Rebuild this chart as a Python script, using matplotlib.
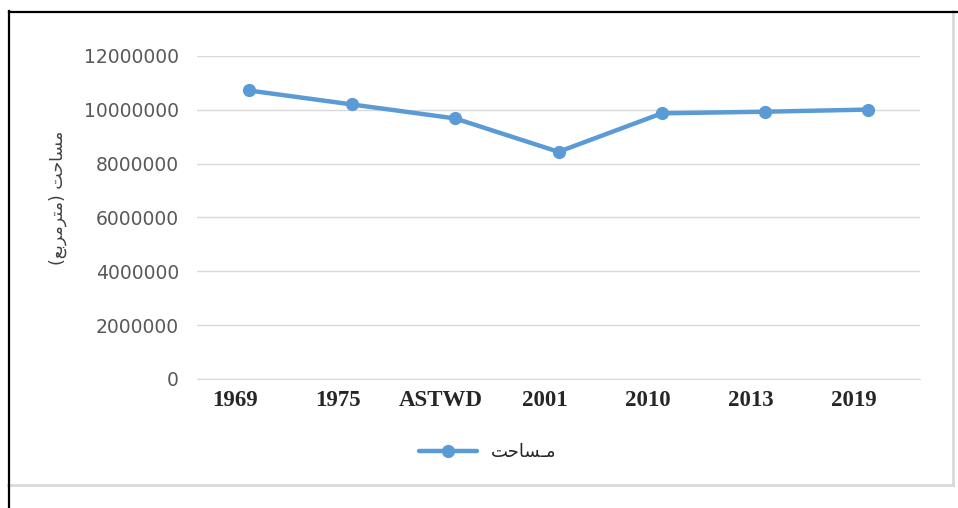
import matplotlib
matplotlib.use("Agg")
import matplotlib.pyplot as plt
from matplotlib.lines import Line2D
from matplotlib.transforms import ScaledTranslation

categories = ["1969", "1975", "ASTWD", "2001", "2010", "2013", "2019"]
values = [10720000, 10200000, 9680000, 8440000, 9870000, 9930000, 10010000]
yticks = [0, 2000000, 4000000, 6000000, 8000000, 10000000, 12000000]

# Arabic text pre-shaped (presentation forms) in visual order
legend_label = "\uFE96\uFEA3\uFE8E\uFEB4\u0640\uFEE3"  # مـساحت
ylabel = ("(" + "\uFECA\uFE91\uFEAE\uFEE3\uFEAE\uFE98\uFEE3" + ") "
          + "\uFE96\uFEA3\uFE8E\uFEB4\uFEE3")  # مساحت (مترمربع)

W, H = 958, 508
fig = plt.figure(figsize=(W / 100, H / 100), dpi=100)
fig.patch.set_facecolor("white")

ax = fig.add_axes([197 / W, 1 - 379 / H, (920 - 197) / W, (379 - 56) / H])
x = list(range(len(categories)))
ax.plot(x, values, color="#5B9BD5", lw=3.2, marker="o", ms=8.5,
        solid_capstyle="round", label=legend_label, zorder=3)

ax.set_xlim(-0.5, len(categories) - 0.5)
ax.set_ylim(0, 12000000)
ax.set_yticks(yticks)
ax.set_yticklabels([str(v) for v in yticks], color="#595959", fontsize=13.5,
                   family="DejaVu Sans")
ax.set_xticks(x)
ax.set_xticklabels(categories, family="Liberation Serif", fontweight="bold",
                   fontsize=16.5, color="#262626")
ax.tick_params(axis="both", length=0)
ax.tick_params(axis="y", pad=13)
ax.tick_params(axis="x", pad=8)
shift = ScaledTranslation(-14 / 100, 0, fig.dpi_scale_trans)
for lbl in ax.get_xticklabels():
    lbl.set_transform(lbl.get_transform() + shift)
ax.grid(axis="y", color="#D9D9D9", lw=1)
ax.set_axisbelow(True)
for s in ["top", "right", "left"]:
    ax.spines[s].set_visible(False)
ax.spines["bottom"].set_color("#D9D9D9")

fig.text(58 / W, 1 - 198 / H, ylabel, rotation=90, ha="center", va="center",
         fontsize=12.5, color="#404040", family="DejaVu Sans")

leg = fig.legend(loc="center", bbox_to_anchor=(488 / W, 1 - 452 / H),
                 frameon=False, handlelength=3.2,
                 prop={"family": "DejaVu Sans", "size": 13})
for t in leg.get_texts():
    t.set_color("#262626")

# Borders
def fl(xs, ys, **kw):
    fig.add_artist(Line2D([v / W for v in xs], [1 - v / H for v in ys],
                          transform=fig.transFigure, **kw))

fl([953, 953], [11, 485], color="#D9D9D9", lw=2)
fl([8, 953], [485, 485], color="#D9D9D9", lw=2)
fl([8.5, 958], [11.5, 11.5], color="black", lw=1.6)
fl([8.5, 8.5], [11, 508], color="black", lw=1.6)

fig.savefig("out.png", dpi=100)
